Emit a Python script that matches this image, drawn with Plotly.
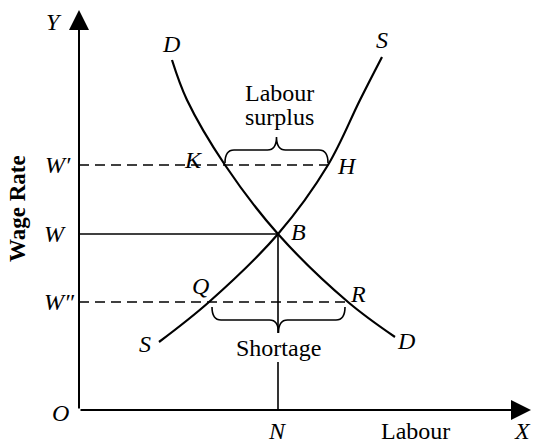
import plotly.graph_objects as go

# ---- data (labour quantity, wage rate) ----
demand_labour = [93, 108, 146, 199, 269, 316]
demand_wage = [350, 310, 245, 176, 108, 73]
supply_labour = [80, 130, 199, 249, 281, 303]
supply_wage = [68, 108, 176, 245, 310, 353]

N_EQ = 199        # equilibrium labour
W_EQ = 176        # equilibrium wage W
W_HIGH = 245      # W'
W_LOW = 108       # W''
K_L, H_L = 146, 249   # demand / supply at W'
Q_L, R_L = 130, 269   # supply / demand at W''

X_MAX, Y_MAX = 452, 400

SERIF = "Liberation Serif"
fig = go.Figure()

fig.add_trace(go.Scatter(x=demand_labour, y=demand_wage, mode="lines",
                         line=dict(color="black", width=2.2, shape="spline", smoothing=1.0),
                         hoverinfo="skip", showlegend=False))
fig.add_trace(go.Scatter(x=supply_labour, y=supply_wage, mode="lines",
                         line=dict(color="black", width=2.2, shape="spline", smoothing=1.0),
                         hoverinfo="skip", showlegend=False))

shapes = []
# W' and W'' dashed lines, W solid line
shapes.append(dict(type="line", x0=0, x1=H_L, y0=W_HIGH, y1=W_HIGH, xref="x", yref="y",
                   line=dict(color="black", width=1.6, dash="10px,6px")))
shapes.append(dict(type="line", x0=0, x1=R_L, y0=W_LOW, y1=W_LOW, xref="x", yref="y",
                   line=dict(color="black", width=1.6, dash="10px,6px")))
shapes.append(dict(type="line", x0=0, x1=N_EQ, y0=W_EQ, y1=W_EQ, xref="x", yref="y",
                   line=dict(color="black", width=1.6)))

# braces
def brace(x1, x2, base, flat, tip, r=9):
    xm = (x1 + x2) / 2
    return (f"M {x1},{base} Q {x1},{flat} {x1 + r},{flat} L {xm - r},{flat} "
            f"Q {xm},{flat} {xm},{tip} Q {xm},{flat} {xm + r},{flat} "
            f"L {x2 - r},{flat} Q {x2},{flat} {x2},{base}")

shapes.append(dict(type="path", path=brace(K_L, H_L, W_HIGH + 2, W_HIGH + 15, W_HIGH + 28),
                   xref="x", yref="y", line=dict(color="black", width=1.6)))
shapes.append(dict(type="path", path=brace(Q_L + 3, R_L - 3, W_LOW - 5, W_LOW - 18, W_LOW - 31),
                   xref="x", yref="y", line=dict(color="black", width=1.6)))

# vertical line at N, interrupted by "Shortage"
shapes.append(dict(type="line", x0=N_EQ, x1=N_EQ, y0=W_EQ, y1=W_LOW - 31, xref="x", yref="y",
                   line=dict(color="black", width=1.6)))
shapes.append(dict(type="line", x0=N_EQ, x1=N_EQ, y0=48, y1=0, xref="x", yref="y",
                   line=dict(color="black", width=1.6)))

ann = []
# axes with arrows
ann.append(dict(x=0, y=Y_MAX, ax=0, ay=0, xref="x", yref="y", axref="x", ayref="y",
                showarrow=True, arrowhead=2, arrowsize=2, arrowwidth=2, arrowcolor="black", text=""))
ann.append(dict(x=X_MAX, y=0, ax=0, ay=0, xref="x", yref="y", axref="x", ayref="y",
                showarrow=True, arrowhead=2, arrowsize=2, arrowwidth=2, arrowcolor="black", text=""))

def lab(x, y, t, italic=True, size=24, **kw):
    ann.append(dict(x=x, y=y, xref="x", yref="y", text=(f"<i>{t}</i>" if italic else t),
                    showarrow=False, font=dict(family=SERIF, size=size, color="black"),
                    xanchor="center", yanchor="middle", **kw))

lab(-25, 388, "Y")
lab(92, 366, "D")
lab(303, 370, "S")
lab(200, 317, "Labour", italic=False)
lab(200, 293, "surplus", italic=False)
lab(114, 250, "K")
lab(268, 244, "H")
lab(-21, W_HIGH, "W′")
lab(-24, W_EQ, "W")
lab(-20, W_LOW, "W″")
lab(219, 178, "B")
lab(121, 124, "Q")
lab(279, 116, "R")
lab(66, 66, "S")
lab(327, 69, "D")
lab(199, 62, "Shortage", italic=False)
lab(-19, -3, "O")
lab(198, -21, "N")
lab(336, -21, "Labour", italic=False)
lab(443, -21, "X")
ann.append(dict(x=-62, y=201, xref="x", yref="y", text="<b>Wage Rate</b>", textangle=-90,
                showarrow=False, font=dict(family=SERIF, size=23, color="black"),
                xanchor="center", yanchor="middle"))

fig.update_layout(
    width=533, height=443,
    margin=dict(l=0, r=0, t=0, b=0),
    paper_bgcolor="white", plot_bgcolor="white",
    xaxis=dict(range=[-79, 454], visible=False, fixedrange=True),
    yaxis=dict(range=[-33, 410], visible=False, fixedrange=True),
    shapes=shapes, annotations=ann,
)

fig.write_html("out.html", config={"displayModeBar": False},
               post_script="document.body.style.margin='0';document.body.style.overflow='hidden';")
